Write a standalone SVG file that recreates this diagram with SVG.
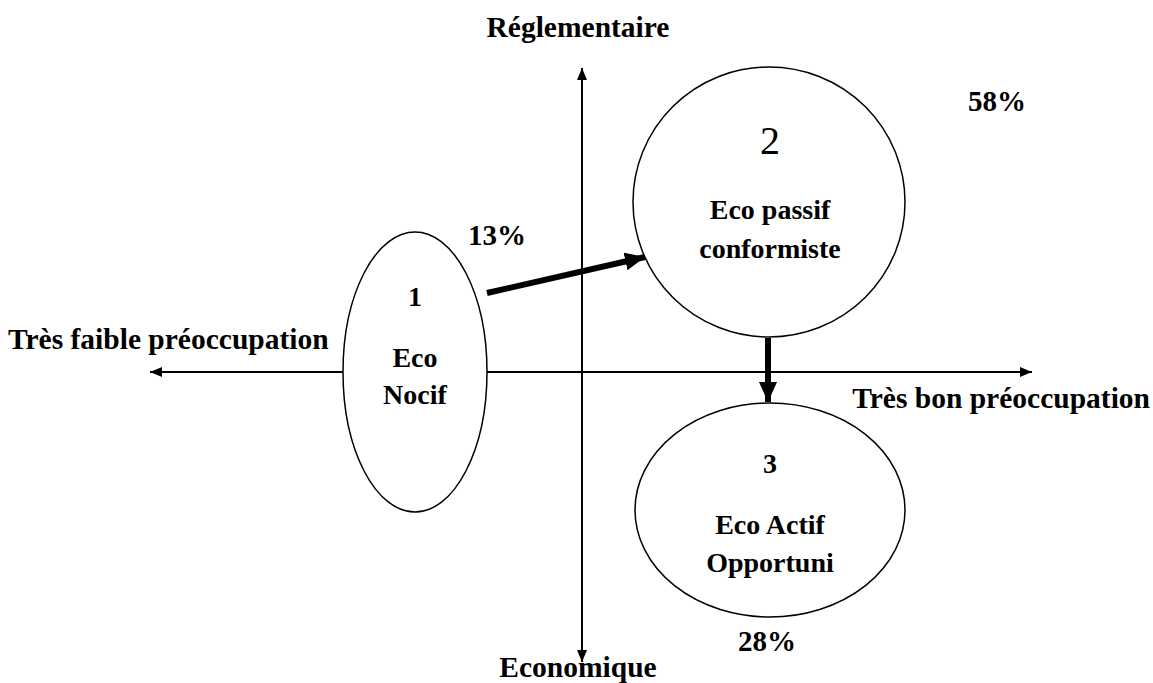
<svg xmlns="http://www.w3.org/2000/svg" width="1153" height="683" viewBox="0 0 1153 683">
<style>
text{font-family:"Liberation Serif","Times New Roman",serif;font-weight:bold;fill:#000}
.ax{font-size:29.5px}
.pc{font-size:29px}
.lb{font-size:28px;text-anchor:middle}
.node{fill:#fff;stroke:#000;stroke-width:1.5}
.axis{stroke:#000;stroke-width:2;fill:none}
.flow{stroke:#000;stroke-width:6;fill:none}
</style>
<defs>
<marker id="ah" markerWidth="12" markerHeight="10" refX="12" refY="5" orient="auto" markerUnits="userSpaceOnUse"><path d="M0,0 L12,5 L0,10 Z" fill="#000"/></marker>
<marker id="bh" markerWidth="20" markerHeight="18" refX="20" refY="9" orient="auto" markerUnits="userSpaceOnUse"><path d="M0,0 L20,9 L0,18 Z" fill="#000"/></marker>
</defs>
<g id="axes" class="axis">
<line x1="583" y1="372" x2="150" y2="372" marker-end="url(#ah)"/>
<line x1="583" y1="372" x2="1032" y2="372" marker-end="url(#ah)"/>
<line x1="582" y1="372" x2="582" y2="68" marker-end="url(#ah)"/>
<line x1="582" y1="372" x2="582" y2="662" marker-end="url(#ah)"/>
</g>
<g id="node1"><ellipse class="node" cx="415" cy="372" rx="72" ry="140"/>
<text class="lb" x="415" y="306">1</text><text class="lb" x="415" y="367">Eco</text><text class="lb" x="415" y="404">Nocif</text></g>
<g id="node2"><ellipse class="node" cx="769" cy="202" rx="136" ry="135"/>
<text x="770" y="154" style="font-weight:normal;font-size:40px;text-anchor:middle">2</text><text class="lb" x="770" y="219">Eco passif</text><text class="lb" x="770" y="258">conformiste</text></g>
<g id="node3"><ellipse class="node" cx="770" cy="510" rx="135" ry="107"/>
<text class="lb" x="770" y="473">3</text><text class="lb" x="770" y="534">Eco Actif</text><text class="lb" x="770" y="572">Opportuni</text></g>
<g id="connectors">
<line class="flow" x1="487" y1="293" x2="645" y2="257" marker-end="url(#bh)"/>
<line class="flow" x1="768" y1="338" x2="768" y2="402" marker-end="url(#bh)"/>
</g>
<g id="labels">
<text class="ax" x="578" y="37" text-anchor="middle">Réglementaire</text>
<text class="ax" x="578" y="677" text-anchor="middle">Economique</text>
<text class="ax" x="8" y="349">Très faible préoccupation</text>
<text class="ax" x="1150" y="408" text-anchor="end">Très bon préoccupation</text>
<text class="pc" x="968" y="111">58%</text>
<text class="pc" x="468" y="245">13%</text>
<text class="pc" x="738" y="651">28%</text>
</g>
</svg>
